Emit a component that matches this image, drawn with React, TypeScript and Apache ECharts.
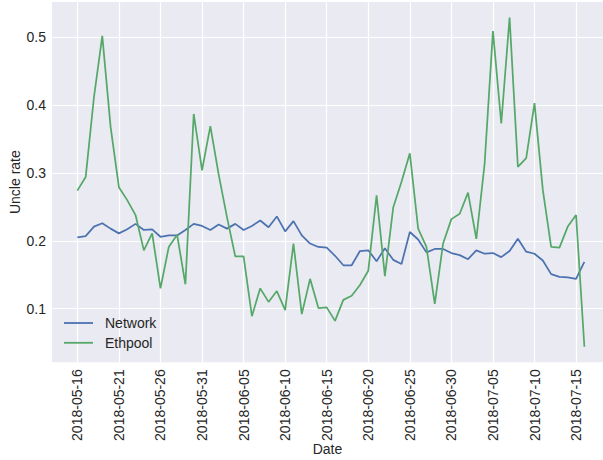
import React, { useEffect, useRef } from "react";
import * as echarts from "echarts";

const dates: string[] = [
  "2018-05-16","2018-05-17","2018-05-18","2018-05-19","2018-05-20","2018-05-21","2018-05-22","2018-05-23",
  "2018-05-24","2018-05-25","2018-05-26","2018-05-27","2018-05-28","2018-05-29","2018-05-30","2018-05-31",
  "2018-06-01","2018-06-02","2018-06-03","2018-06-04","2018-06-05","2018-06-06","2018-06-07","2018-06-08",
  "2018-06-09","2018-06-10","2018-06-11","2018-06-12","2018-06-13","2018-06-14","2018-06-15","2018-06-16",
  "2018-06-17","2018-06-18","2018-06-19","2018-06-20","2018-06-21","2018-06-22","2018-06-23","2018-06-24",
  "2018-06-25","2018-06-26","2018-06-27","2018-06-28","2018-06-29","2018-06-30","2018-07-01","2018-07-02",
  "2018-07-03","2018-07-04","2018-07-05","2018-07-06","2018-07-07","2018-07-08","2018-07-09","2018-07-10",
  "2018-07-11","2018-07-12","2018-07-13","2018-07-14","2018-07-15","2018-07-16",
];

const networkRate: number[] = [
  0.205, 0.207, 0.221, 0.226, 0.218, 0.211, 0.217, 0.225, 0.216, 0.217, 0.206, 0.208, 0.208, 0.216, 0.225,
  0.222, 0.216, 0.224, 0.218, 0.225, 0.216, 0.222, 0.230, 0.220, 0.236, 0.214, 0.229, 0.208, 0.196, 0.191, 0.190,
  0.178, 0.164, 0.164, 0.185, 0.186, 0.170, 0.189, 0.172, 0.166, 0.213, 0.202, 0.183, 0.188, 0.188, 0.182, 0.179,
  0.173, 0.186, 0.181, 0.182, 0.176, 0.185, 0.203, 0.184, 0.181, 0.171, 0.151, 0.147, 0.146, 0.144, 0.169,
];

const ethpoolRate: number[] = [
  0.274, 0.294, 0.412, 0.502, 0.368, 0.279, 0.260, 0.238, 0.186, 0.211, 0.130, 0.191, 0.209, 0.136, 0.387,
  0.304, 0.369, 0.298, 0.235, 0.177, 0.177, 0.089, 0.130, 0.110, 0.126, 0.098, 0.196, 0.092, 0.144, 0.101, 0.102,
  0.082, 0.113, 0.119, 0.135, 0.156, 0.267, 0.148, 0.249, 0.287, 0.329, 0.218, 0.191, 0.107, 0.196, 0.232, 0.240,
  0.271, 0.203, 0.314, 0.509, 0.373, 0.529, 0.309, 0.322, 0.403, 0.275, 0.191, 0.190, 0.221, 0.238, 0.044,
];

const xTickLabels: string[] = [
  "2018-05-16","2018-05-21","2018-05-26","2018-05-31","2018-06-05","2018-06-10","2018-06-15",
  "2018-06-20","2018-06-25","2018-06-30","2018-07-05","2018-07-10","2018-07-15",
];

const yTicks: number[] = [0.1, 0.2, 0.3, 0.4, 0.5];

const FONT = "'Liberation Sans', Arial, 'DejaVu Sans', sans-serif";
const TEXT = "#262626";

export default function App() {
  const ref = useRef<HTMLDivElement>(null);
  useEffect(() => {
    if (!ref.current) return;
    const chart = echarts.init(ref.current, undefined, { renderer: "svg" });
    const dayIndex = (d: string) => dates.indexOf(d);
    const xTickValues = xTickLabels.map(dayIndex);
    const pts = (vals: number[]) => vals.map((v, i) => [i, v]);
    chart.setOption({
      animation: false,
      backgroundColor: "#ffffff",
      textStyle: { fontFamily: FONT },
      grid: {
        left: 52,
        top: 2,
        right: 0,
        bottom: 97.7,
        show: true,
        backgroundColor: "#EAEAF2",
        borderWidth: 0,
        containLabel: false,
        outerBoundsMode: "none",
      },
      legend: {
        orient: "vertical",
        left: 59,
        top: 311,
        icon: "rect",
        itemWidth: 29,
        itemHeight: 1.8,
        itemGap: 5.8,
        textStyle: { color: TEXT, fontSize: 14, fontFamily: FONT, padding: [0, 0, 0, 7] },
        data: ["Network", "Ethpool"],
      },
      xAxis: {
        type: "value",
        min: -3.05,
        max: 63.24,
        name: "Date",
        nameLocation: "middle",
        nameGap: 80,
        nameMoveOverlap: false,
        nameTextStyle: { color: TEXT, fontSize: 14, fontFamily: FONT },
        axisLine: { show: false },
        axisTick: { show: false, customValues: xTickValues },
        axisLabel: {
          customValues: xTickValues,
          rotate: 90,
          margin: 7,
          color: TEXT,
          fontSize: 14,
          fontFamily: FONT,
          formatter: (v: number) => dates[Math.round(v)] ?? "",
        },
        splitLine: { show: true, lineStyle: { color: "#ffffff", width: 1.2 } },
      },
      yAxis: {
        type: "value",
        min: 0.021,
        max: 0.552,
        name: "Uncle rate",
        nameLocation: "middle",
        nameGap: 30,
        nameMoveOverlap: false,
        nameTextStyle: { color: TEXT, fontSize: 14, fontFamily: FONT },
        axisLine: { show: false },
        axisTick: { show: false, customValues: yTicks },
        axisLabel: {
          customValues: yTicks,
          margin: 6,
          color: TEXT,
          fontSize: 14,
          fontFamily: FONT,
          formatter: (v: number) => v.toFixed(1),
        },
        splitLine: { show: true, lineStyle: { color: "#ffffff", width: 1.2 } },
      },
      series: [
        {
          name: "Network",
          type: "line",
          data: pts(networkRate),
          showSymbol: false,
          symbol: "none",
          color: "#4C72B0",
          lineStyle: { color: "#4C72B0", width: 1.75 },
        },
        {
          name: "Ethpool",
          type: "line",
          data: pts(ethpoolRate),
          showSymbol: false,
          symbol: "none",
          color: "#55A868",
          lineStyle: { color: "#55A868", width: 1.75 },
        },
      ],
    });
    return () => chart.dispose();
  }, []);
  return (
    <div
      ref={ref}
      style={{ position: "fixed", left: 0, top: 0, width: 603, height: 460 }}
    />
  );
}
